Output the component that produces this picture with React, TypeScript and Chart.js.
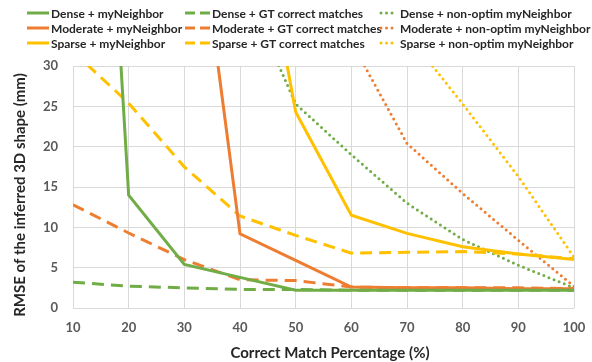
import React, { useEffect, useRef } from "react";
import { Chart, registerables } from "chart.js";

Chart.register(...registerables);

const percentages = [10, 20, 30, 40, 50, 60, 70, 80, 90, 100];

const denseMyNeighbor = [130, 14, 5.4, 3.8, 2.2, 2.2, 2.2, 2.2, 2.2, 2.2];
const moderateMyNeighbor = [180, 120, 62, 9.2, 5.9, 2.6, 2.5, 2.5, 2.4, 2.4];
const sparseMyNeighbor = [200, 150, 100, 62, 24.3, 11.5, 9.25, 7.6, 6.7, 6.0];

const denseGT = [3.2, 2.7, 2.5, 2.3, 2.3, 2.2, 2.2, 2.2, 2.2, 2.2];
const moderateGT = [12.8, 9.3, 6.0, 3.5, 3.4, 2.6, 2.5, 2.5, 2.5, 2.4];
const sparseGT = [31.8, 25.4, 17.5, 11.4, 9.0, 6.8, 6.9, 7.0, 6.7, 6.1];

const denseNonOptim = [80, 60, 50, 41, 25.3, 19, 13, 8.5, 5.3, 2.5];
const moderateNonOptim = [90, 80, 70, 55, 45, 33, 20.4, 14.2, 8.4, 2.7];
const sparseNonOptim = [100, 90, 80, 70, 50, 42, 34, 25.3, 16.3, 6.3];

const yTicks = [0, 5, 10, 15, 20, 25, 30];

const seriesNames = [
  ["Dense + myNeighbor", "Dense + GT correct matches", "Dense + non-optim myNeighbor"],
  ["Moderate + myNeighbor", "Moderate + GT correct matches", "Moderate + non-optim myNeighbor"],
  ["Sparse + myNeighbor", "Sparse + GT correct matches", "Sparse + non-optim myNeighbor"],
];

const xTitle = "Correct Match Percentage (%)";
const yTitle = "RMSE of the inferred 3D shape (mm)";

const GREEN = "#70AD47";
const ORANGE = "#ED7D31";
const YELLOW = "#FFC000";
const rowColors = [GREEN, ORANGE, YELLOW];

const FONT = "Lato, 'Open Sans', sans-serif";

const DASH = [12, 7];
const DOT = [0, 5.5];

function pts(values: number[]) {
  return values.map((v, i) => ({ x: percentages[i], y: v }));
}

const overlayPlugin = {
  id: "overlay",
  afterDraw(chart: any) {
    const ctx = chart.ctx as CanvasRenderingContext2D;
    ctx.save();
    const colLine = [
      [27, 49],
      [185, 210],
      [381, 397],
    ];
    const colText = [51, 212, 400];
    const rowY = [13, 28, 43];
    ctx.font = `bold 12px ${FONT}`;
    ctx.textBaseline = "middle";
    ctx.textAlign = "left";
    for (let r = 0; r < 3; r++) {
      for (let c = 0; c < 3; c++) {
        const y = rowY[r];
        ctx.strokeStyle = rowColors[r];
        ctx.lineWidth = 3;
        if (c === 0) {
          ctx.setLineDash([]);
          ctx.lineCap = "butt";
        } else if (c === 1) {
          ctx.setLineDash([10, 5]);
          ctx.lineCap = "butt";
        } else {
          ctx.setLineDash([0, 5.5]);
          ctx.lineCap = "round";
        }
        ctx.beginPath();
        ctx.moveTo(colLine[c][0], y);
        ctx.lineTo(colLine[c][1], y);
        ctx.stroke();
        ctx.setLineDash([]);
        ctx.fillStyle = "#262626";
        ctx.fillText(seriesNames[r][c], colText[c], y + 1);
      }
    }
    ctx.fillStyle = "#262626";
    ctx.font = `bold 15px ${FONT}`;
    ctx.textAlign = "center";
    ctx.textBaseline = "middle";
    ctx.fillText(xTitle, 330, 353);
    ctx.translate(20, 195);
    ctx.rotate(-Math.PI / 2);
    ctx.fillText(yTitle, 0, 0);
    ctx.restore();
  },
};

export default function App() {
  const ref = useRef<HTMLCanvasElement | null>(null);

  useEffect(() => {
    document.body.style.margin = "0";
    const canvas = ref.current;
    if (!canvas) return;
    const mk = (label: string, data: number[], color: string, style: number) => ({
      label,
      data: pts(data),
      borderColor: color,
      backgroundColor: color,
      borderWidth: 3,
      pointRadius: 0,
      tension: 0,
      fill: false,
      borderDash: style === 0 ? [] : style === 1 ? DASH : DOT,
      borderCapStyle: style === 2 ? "round" : "butt",
    });
    const datasets = [
      mk(seriesNames[0][0], denseMyNeighbor, GREEN, 0),
      mk(seriesNames[1][0], moderateMyNeighbor, ORANGE, 0),
      mk(seriesNames[2][0], sparseMyNeighbor, YELLOW, 0),
      mk(seriesNames[0][1], denseGT, GREEN, 1),
      mk(seriesNames[1][1], moderateGT, ORANGE, 1),
      mk(seriesNames[2][1], sparseGT, YELLOW, 1),
      mk(seriesNames[0][2], denseNonOptim, GREEN, 2),
      mk(seriesNames[1][2], moderateNonOptim, ORANGE, 2),
      mk(seriesNames[2][2], sparseNonOptim, YELLOW, 2),
    ];
    const chart = new Chart(canvas, {
      type: "line",
      data: { datasets: datasets as any },
      plugins: [overlayPlugin],
      options: {
        animation: false,
        responsive: false,
        maintainAspectRatio: false,
        devicePixelRatio: 1,
        layout: { padding: { top: 66, right: 18, left: 0, bottom: 0 } },
        plugins: {
          legend: { display: false },
          tooltip: { enabled: false },
        },
        scales: {
          x: {
            type: "linear",
            min: 10,
            max: 100,
            ticks: {
              stepSize: 10,
              padding: 12,
              color: "#595959",
              font: { family: FONT, size: 13, weight: "bold" },
            },
            grid: { color: "#D9D9D9", lineWidth: 1, drawTicks: false },
            border: { display: false },
            afterFit: (s: any) => {
              s.height = 54;
              s.paddingLeft = 0;
              s.paddingRight = 0;
            },
          },
          y: {
            type: "linear",
            min: 0,
            max: 30,
            afterBuildTicks: (s: any) => {
              s.ticks = yTicks.map((v) => ({ value: v }));
            },
            ticks: {
              padding: 15,
              color: "#595959",
              font: { family: FONT, size: 13, weight: "bold" },
            },
            grid: { color: "#D9D9D9", lineWidth: 1, drawTicks: false },
            border: { display: false },
            afterFit: (s: any) => {
              s.width = 73;
              s.paddingTop = 0;
              s.paddingBottom = 0;
            },
          },
        },
      } as any,
    });
    return () => chart.destroy();
  }, []);

  return (
    <div style={{ width: 592, height: 362, background: "#fff" }}>
      <canvas ref={ref} width={592} height={362} style={{ display: "block" }} />
    </div>
  );
}
